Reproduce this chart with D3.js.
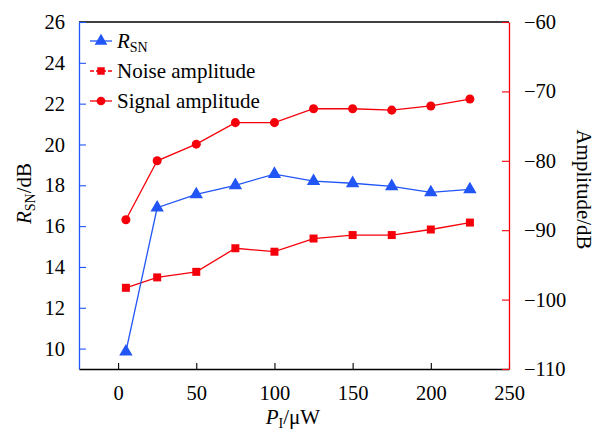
<!DOCTYPE html>
<html>
<head>
<meta charset="utf-8">
<script src="https://cdn.jsdelivr.net/npm/d3@7"></script>
<style>
  body { margin: 0; background: #fff; }
  svg text { font-family: "Liberation Serif", "Times New Roman", serif; }
</style>
</head>
<body>
<svg id="chart" width="596" height="430"></svg>
<script>
// data
const power = [5, 25, 50, 75, 100, 125, 150, 175, 200, 225];
const rsn = [9.85, 16.9, 17.55, 18.0, 18.55, 18.2, 18.1, 17.95, 17.65, 17.8];
const noiseAmp = [-98.3, -96.8, -96.0, -92.6, -93.1, -91.2, -90.7, -90.7, -89.9, -88.9];
const signalAmp = [-88.5, -80.0, -77.6, -74.5, -74.5, -72.5, -72.5, -72.7, -72.1, -71.1];
const xTicks = [0, 50, 100, 150, 200, 250];
const leftTicks = [10, 12, 14, 16, 18, 20, 22, 24, 26];
const rightTicks = [-110, -100, -90, -80, -70, -60];

const blue = "#2155f5", red = "#f5000a";
const serif = '"Liberation Serif", "Times New Roman", serif';
const margin = {top: 22, right: 87, bottom: 61, left: 79};
const width = 596 - margin.left - margin.right,
      height = 430 - margin.top - margin.bottom;

const svg = d3.select("#chart");
const g = svg.append("g").attr("transform", `translate(${margin.left},${margin.top})`);

let x = d3.scaleLinear().domain([-25, 250]).range([0, width]);
let yL = d3.scaleLinear().domain([9, 26]).range([height, 0]);
let yR = d3.scaleLinear().domain([-110, -60]).range([height, 0]);

// frame top
g.append("line").attr("x1", 0).attr("x2", width).attr("y1", 0).attr("y2", 0)
  .attr("stroke", "#000").attr("stroke-width", 1.3);

//#region axes
const styleAxis = (sel, color) => {
  sel.attr("font-family", serif).attr("font-size", 20.5);
  sel.select(".domain").attr("stroke", color).attr("stroke-width", 1.3);
  sel.selectAll(".tick line").attr("stroke", color).attr("stroke-width", 1.1);
  sel.selectAll(".tick text").attr("fill", "#000")
    .style("font-family", serif).style("font-size", "20.5px");
};

g.append("g").attr("transform", `translate(0,${height})`)
  .call(d3.axisBottom(x).tickValues(xTicks).tickSizeInner(-6).tickSizeOuter(0).tickPadding(16))
  .call(s => styleAxis(s, "#000"));

g.append("g")
  .call(d3.axisLeft(yL).tickValues(leftTicks).tickSizeInner(-7).tickSizeOuter(0).tickPadding(14))
  .call(s => styleAxis(s, blue));

g.append("g").attr("transform", `translate(${width},0)`)
  .call(d3.axisRight(yR).tickValues(rightTicks).tickSizeInner(-7).tickSizeOuter(0).tickPadding(15))
  .call(s => styleAxis(s, red));
//#endregion

// axis titles
let xt = svg.append("text").attr("x", 293).attr("y", 424).attr("text-anchor", "middle")
  .style("font-size", "21px");
xt.append("tspan").attr("font-style", "italic").text("P");
xt.append("tspan").attr("dy", 4).style("font-size", "14px").text("I");
xt.append("tspan").attr("dy", -4).text("/μW");

let yt = svg.append("text").attr("transform", `translate(31,${margin.top + height / 2 - 2}) rotate(-90)`)
  .attr("text-anchor", "middle").style("font-size", "21px");
yt.append("tspan").attr("font-style", "italic").text("R");
yt.append("tspan").attr("dy", 4).style("font-size", "14px").text("SN");
yt.append("tspan").attr("dy", -4).text("/dB");

svg.append("text").attr("transform", `translate(577,${margin.top + height / 2 - 6}) rotate(90)`)
  .attr("text-anchor", "middle").style("font-size", "21px").text("Amplitude/dB");

//#region series
const series = [
  {vals: signalAmp, y: yR, color: red, shape: d3.symbolCircle, size: 64},
  {vals: noiseAmp, y: yR, color: red, shape: d3.symbolSquare, size: 64},
  {vals: rsn, y: yL, color: blue, shape: d3.symbolTriangle, size: 78}
];

series.forEach(s => {
  const pts = power.map((p, i) => [p, s.vals[i]]);
  g.append("path").datum(pts)
    .attr("fill", "none").attr("stroke", s.color).attr("stroke-width", 1.3)
    .attr("d", d3.line().x(d => x(d[0])).y(d => s.y(d[1])));
  g.append("g").selectAll("path").data(pts).join("path")
    .attr("transform", d => `translate(${x(d[0])},${s.y(d[1])})`)
    .attr("d", d3.symbol().type(s.shape).size(s.size))
    .attr("fill", s.color);
});
//#endregion

//#region legend
const legendItems = [
  {label: "R", sub: "SN", color: blue, shape: d3.symbolTriangle, size: 70, dash: null},
  {label: "Noise amplitude", color: red, shape: d3.symbolSquare, size: 56, dash: "4,2"},
  {label: "Signal amplitude", color: red, shape: d3.symbolCircle, size: 60, dash: null}
];
const lg = svg.append("g").attr("transform", "translate(90,41)");
legendItems.forEach((d, i) => {
  const row = lg.append("g").attr("transform", `translate(0,${i * 30})`);
  row.append("line").attr("x1", 0).attr("x2", 22).attr("stroke", d.color)
    .attr("stroke-width", 1.3).attr("stroke-dasharray", d.dash);
  row.append("path").attr("transform", "translate(11,0)")
    .attr("d", d3.symbol().type(d.shape).size(d.size)).attr("fill", d.color);
  const t = row.append("text").attr("x", 27).attr("y", 7).style("font-size", "21px");
  if (d.sub) {
    t.append("tspan").attr("font-style", "italic").text(d.label);
    t.append("tspan").attr("dy", 4).style("font-size", "14px").text(d.sub);
  } else {
    t.text(d.label);
  }
});
//#endregion
</script>
</body>
</html>
